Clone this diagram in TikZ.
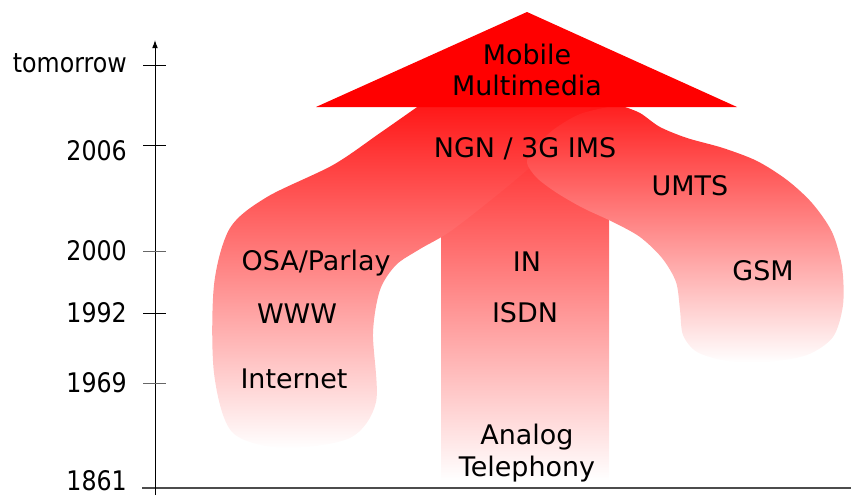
\documentclass[tikz,border=0pt]{standalone}
\usepackage{fontspec}
\setmainfont{DejaVu Sans}
\newfontfamily\axisfont{DejaVu Sans}[FakeStretch=0.88]
\usetikzlibrary{arrows.meta}

\begin{document}
\begin{tikzpicture}[x=0.03cm, y=-0.03cm,
		band/.style={top color=red, middle color=red!40!white, bottom color=white},
		lbl/.style={font=\fontsize{23}{27}\selectfont, inner sep=0pt, text height=16.8pt, text depth=0pt},
		twolbl/.style={font=\fontsize{23}{27}\selectfont, inner sep=0pt, align=center},
		yearlbl/.style={font=\axisfont\fontsize{23}{27}\selectfont, inner sep=0pt, anchor=base east},
		tick/.style={line width=0.85pt}]
		\useasboundingbox (0,0) rectangle (851,497);
		% Bands:
		\shade[band] (441,70) rectangle (609,480);
		\shade[band] (590,70) -- (430,70) -- plot[smooth] coordinates {(420,105) (380,133) (333,165) (267,197) (230,228) (214,285) (214,373) (232,432) (283,448) (350,438) (376,402) (373,333) (380,290) (396,265) (420,249) (455,228) (527,170) (592,107)} -- cycle;
		\shade[band] (632,70) -- (604,70) -- plot[smooth] coordinates {(613,106) (580,114) (553,130) (533,150) (527,163) (537,178) (557,193) (583,208) (613,222) (640,237) (662,258) (676,282) (680,310) (683,335) (697,352) (727,361) (767,362) (807,355) (833,337) (843,305) (842,267) (832,232) (812,203) (787,180) (757,161) (723,148) (687,138) (660,127) (640,113) (622,106)} -- cycle;
		% Arrow head:
		\coordinate (apex) at (527,12);
		\coordinate (headr) at (737,107);
		\coordinate (headl) at (316,107);
		\fill[red] (apex) -- (headr) -- (headl) -- cycle;
		% Labels:
		\node[twolbl] (mm) at (527,70) {Mobile\\Multimedia};
		\node[lbl] (ngn) at (525,148) {NGN / 3G IMS};
		\node[lbl] (umts) at (690,186) {UMTS};
		\node[lbl] (gsm) at (763,271) {GSM};
		\node[lbl] (osa) at (316,261) {OSA/Parlay};
		\node[lbl] (www) at (297,314) {WWW};
		\node[lbl] (inet) at (294,379) {Internet};
		\node[lbl] (in) at (527,262) {IN};
		\node[lbl] (isdn) at (525,313) {ISDN};
		\node[twolbl] (analog) at (527,453) {Analog\\Telephony};
		% Time axis:
		\coordinate (axbot) at (155,495);
		\coordinate (axtop) at (155,40);
		\coordinate (basew) at (142,488);
		\coordinate (basee) at (851,488);
		\draw[line width=1.3pt, black!70] (basew) -- (basee);
		\draw[line width=0.85pt, -{Latex[length=7pt, width=5pt]}] (axbot) -- (axtop);
		\coordinate (tmrwl) at (143,65);
		\coordinate (tmrwr) at (166,65);
		\coordinate (ya) at (143,145);
		\coordinate (yb) at (166,145);
		\coordinate (yc) at (143,251);
		\coordinate (yd) at (166,251);
		\coordinate (ye) at (143,313);
		\coordinate (yf) at (166,313);
		\coordinate (yg) at (143,383);
		\coordinate (yh) at (166,383);
		\draw[tick] (tmrwl) -- (tmrwr);
		\draw[tick] (ya) -- (yb);
		\draw[tick, black!60] (yc) -- (yd);
		\draw[tick] (ye) -- (yf);
		\draw[tick, black!60] (yg) -- (yh);
		\node[yearlbl] (ltmrw) at (127,72) {tomorrow};
		\node[yearlbl] (l2006) at (127,160) {2006};
		\node[yearlbl] (l2000) at (127,260) {2000};
		\node[yearlbl] (l1992) at (127,322) {1992};
		\node[yearlbl] (l1969) at (127,392) {1969};
		\node[yearlbl] (l1861) at (127,490) {1861};
	\end{tikzpicture}
\end{document}
